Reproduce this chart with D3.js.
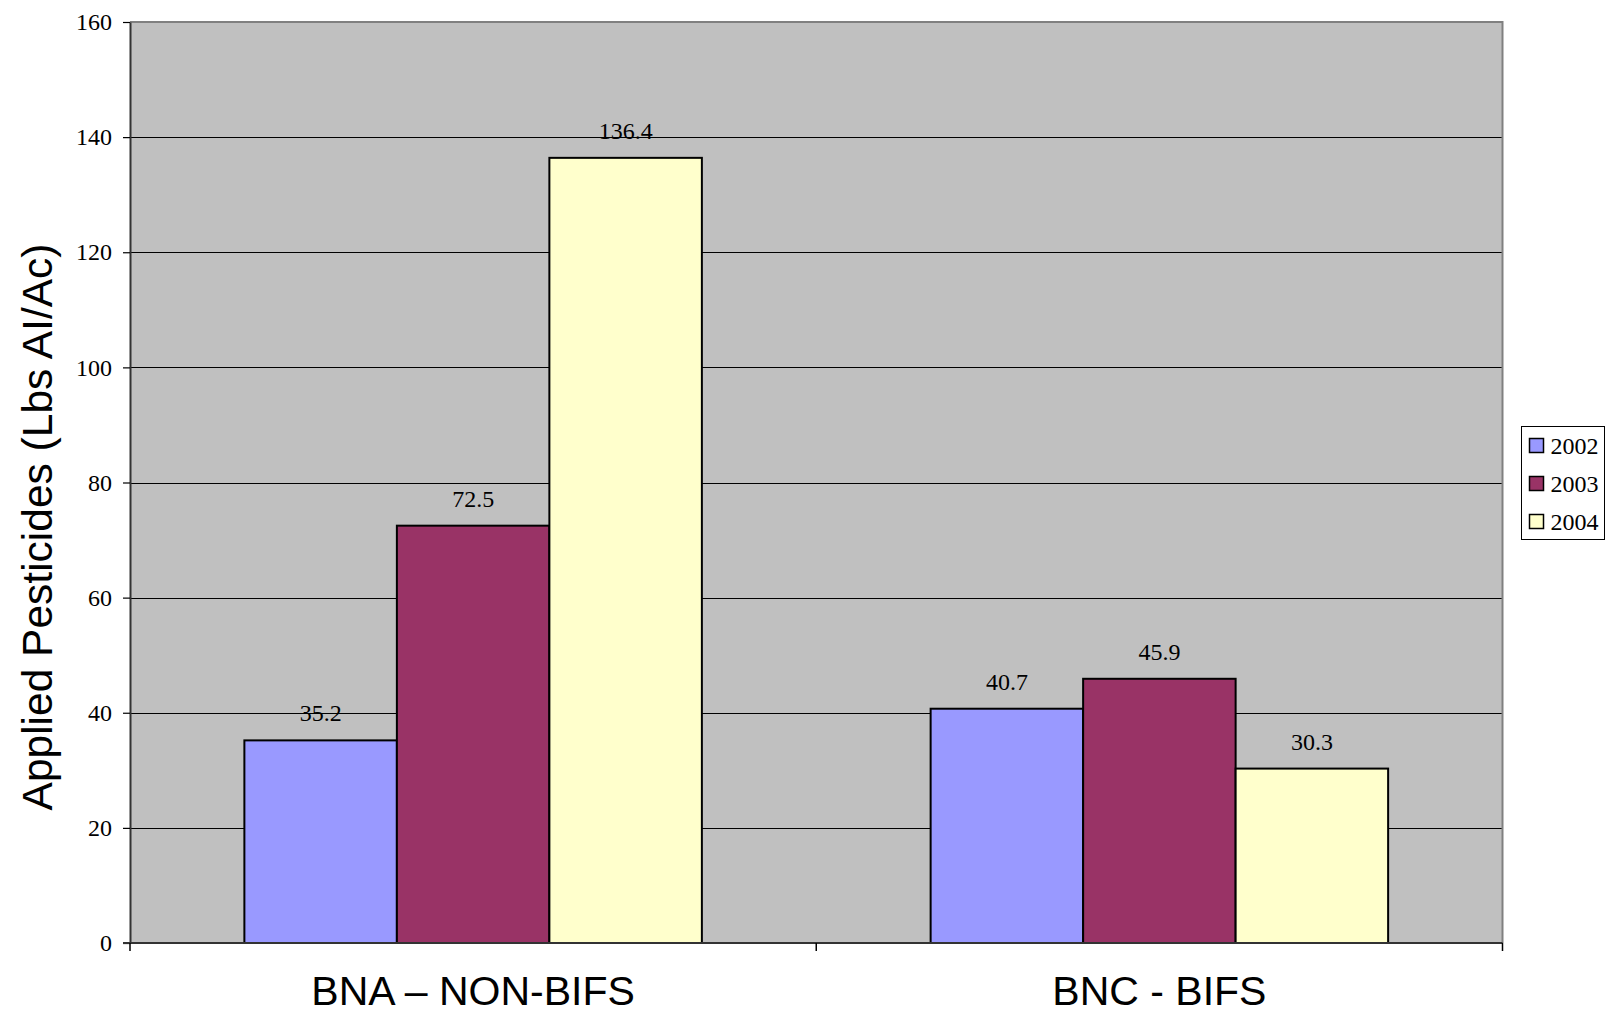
<!DOCTYPE html>
<html>
<head>
<meta charset="utf-8">
<script src="https://cdn.jsdelivr.net/npm/d3@7"></script>
<style>
  html, body { margin: 0; padding: 0; background: #ffffff; }
  svg { display: block; }
</style>
</head>
<body>
<svg id="chart" width="1606" height="1014"></svg>
<script>
// Applied pesticides by site group and year
const categories = ["BNA \u2013 NON-BIFS", "BNC - BIFS"];
const years = ["2002", "2003", "2004"];
const values2002 = [35.2, 40.7];
const values2003 = [72.5, 45.9];
const values2004 = [136.4, 30.3];
const yTicks = [0, 20, 40, 60, 80, 100, 120, 140, 160];
const yTitle = "Applied Pesticides (Lbs AI/Ac)";
const colors = ["#9999FF", "#993366", "#FFFFCC"];

const seriesValues = [values2002, values2003, values2004];
const rows = categories.map((c, i) => ({
  category: c,
  bars: years.map((yr, j) => ({ year: yr, value: seriesValues[j][i] }))
}));

const svg = d3.select("#chart");
const plot = { left: 130, right: 1502.5, top: 22, bottom: 943 };
const serif = "'Liberation Serif', 'Times New Roman', serif";
const sans = "'Liberation Sans', Arial, sans-serif";

const x0 = d3.scaleBand().domain(categories).range([plot.left, plot.right]).padding(0);
const x1 = d3.scaleBand().domain(years).range([0, x0.bandwidth()]).paddingInner(0).paddingOuter(0.75);
const y = d3.scaleLinear().domain([0, 160]).range([plot.bottom, plot.top]);
const color = d3.scaleOrdinal().domain(years).range(colors);

// plot background
svg.append("rect")
  .attr("x", plot.left).attr("y", plot.top)
  .attr("width", plot.right - plot.left).attr("height", plot.bottom - plot.top)
  .attr("fill", "#C0C0C0");

// horizontal gridlines
svg.append("g")
  .selectAll("line")
  .data(yTicks.filter(t => t > 0 && t < 160))
  .join("line")
  .attr("x1", plot.left).attr("x2", plot.right)
  .attr("y1", d => Math.round(y(d)) + 0.5).attr("y2", d => Math.round(y(d)) + 0.5)
  .attr("stroke", "#000").attr("stroke-width", 1);

// top and right border of plot area
svg.append("path")
  .attr("d", `M${plot.left},${plot.top} H${plot.right} V${plot.bottom}`)
  .attr("fill", "none").attr("stroke", "#808080").attr("stroke-width", 2);

// bars
const groups = svg.append("g")
  .selectAll("g")
  .data(rows)
  .join("g")
  .attr("transform", d => `translate(${x0(d.category)},0)`);

groups.selectAll("rect")
  .data(d => d.bars)
  .join("rect")
  .attr("x", d => x1(d.year))
  .attr("y", d => y(d.value))
  .attr("width", x1.bandwidth())
  .attr("height", d => y(0) - y(d.value))
  .attr("fill", d => color(d.year))
  .attr("stroke", "#000")
  .attr("stroke-width", 2);

// value labels
groups.selectAll("text")
  .data(d => d.bars)
  .join("text")
  .attr("x", d => x1(d.year) + x1.bandwidth() / 2)
  .attr("y", d => y(d.value) - 19)
  .attr("text-anchor", "middle")
  .attr("font-family", serif)
  .attr("font-size", 24)
  .attr("fill", "#000")
  .text(d => d.value.toFixed(1));

// y axis
const yAxis = svg.append("g")
  .attr("transform", `translate(${plot.left},0)`)
  .call(d3.axisLeft(y).tickValues(yTicks).tickSize(7).tickPadding(11).tickSizeOuter(0));
yAxis.select(".domain").attr("stroke", "#333").attr("stroke-width", 2);
yAxis.selectAll(".tick line").attr("stroke", "#000").attr("stroke-width", 1.2);
yAxis.selectAll(".tick text")
  .attr("font-family", serif).attr("font-size", 24).attr("fill", "#000");

// x axis line and category boundary ticks
svg.append("line")
  .attr("x1", plot.left - 7).attr("x2", plot.right)
  .attr("y1", plot.bottom).attr("y2", plot.bottom)
  .attr("stroke", "#333").attr("stroke-width", 2);
const boundaries = categories.map(c => x0(c)).concat([x0.range()[1]]);
svg.append("g")
  .selectAll("line")
  .data(boundaries)
  .join("line")
  .attr("x1", d => d).attr("x2", d => d)
  .attr("y1", plot.bottom).attr("y2", plot.bottom + 8)
  .attr("stroke", "#000").attr("stroke-width", 1.5);

// category labels
svg.append("g")
  .selectAll("text")
  .data(categories)
  .join("text")
  .attr("x", d => x0(d) + x0.bandwidth() / 2)
  .attr("y", 1005)
  .attr("text-anchor", "middle")
  .attr("font-family", sans)
  .attr("font-size", 41)
  .attr("fill", "#000")
  .text(d => d);

// y axis title
svg.append("text")
  .attr("transform", "translate(52,527) rotate(-90)")
  .attr("text-anchor", "middle")
  .attr("font-family", sans)
  .attr("font-size", 42.5)
  .attr("fill", "#000")
  .text(yTitle);

// legend
const legend = svg.append("g").attr("transform", "translate(1521.5,426.5)");
legend.append("rect")
  .attr("width", 83).attr("height", 113)
  .attr("fill", "#fff").attr("stroke", "#000").attr("stroke-width", 1);
const items = legend.selectAll("g")
  .data(years)
  .join("g")
  .attr("transform", (d, i) => `translate(0,${19.5 + i * 38})`);
items.append("rect")
  .attr("x", 8).attr("y", -7.5)
  .attr("width", 14).attr("height", 14)
  .attr("fill", d => color(d))
  .attr("stroke", "#000").attr("stroke-width", 1.5);
items.append("text")
  .attr("x", 29).attr("y", 7.5)
  .attr("font-family", serif).attr("font-size", 24).attr("fill", "#000")
  .text(d => d);
</script>
</body>
</html>
